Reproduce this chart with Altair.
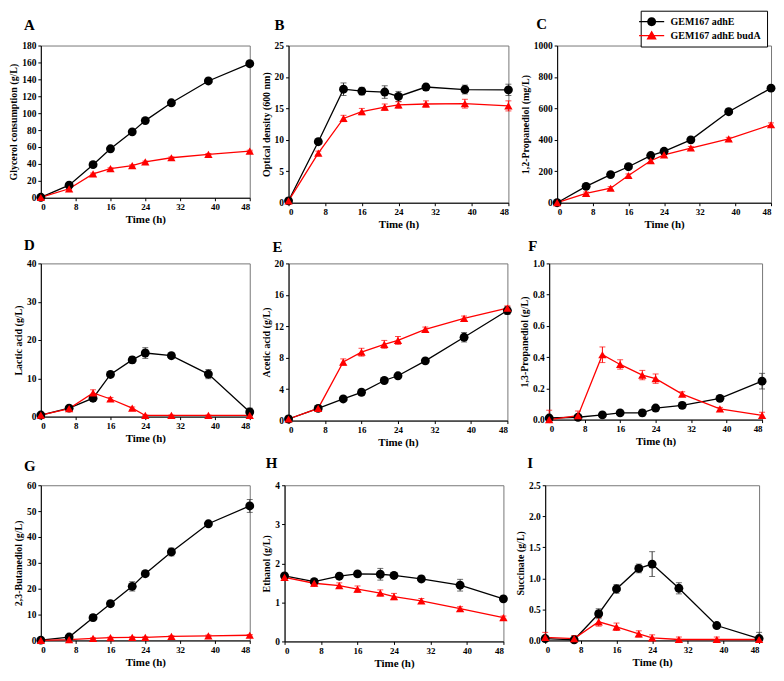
import altair as alt
import pandas as pd

TIME = [0, 6.5, 12, 16, 21, 24, 30, 38.5, 48]
X_TICKS = [0, 8, 16, 24, 32, 40, 48]
SERIES = ["GEM167 adhE", "GEM167 adhE budA"]
COLORS = ["black", "#ff0000"]
ERR_COLORS = ["#333333", "#ff0000"]

LETTERS = ["A", "B", "C", "D", "E", "F", "G", "H", "I"]
Y_TITLES = [
    "Glycerol consumption (g/L)", "Optical density (600 nm)", "1,2-Propanediol (mg/L)",
    "Lactic acid (g/L)", "Acetic acid (g/L)", "1,3-Propanediol (g/L)",
    "2,3-Butanediol (g/L)", "Ethanol (g/L)", "Succinate (g/L)",
]
Y_MAX = [180, 25, 1000, 40, 20, 1.0, 60, 4, 2.5]
Y_STEP = [20, 5, 200, 10, 4, 0.2, 10, 1, 0.5]
Y_FORMAT = ["d", "d", "d", "d", "d", ".1f", "d", "d", ".1f"]

# A: glycerol consumption
A_adhE = [0.5, 14.9, 39.1, 57.9, 77.9, 91.2, 112.3, 138.1, 158.5]
A_adhE_err = [0.5, 1.0, 1.0, 1.0, 1.5, 1.5, 1.5, 1.5, 2.0]
A_budA = [0.3, 10.6, 28.2, 34.4, 38.0, 42.3, 47.3, 51.3, 55.2]
A_budA_err = [0.3, 1.0, 1.0, 1.0, 1.0, 1.0, 1.0, 1.0, 1.0]
# B: optical density
B_adhE = [0.3, 9.7, 18.05, 17.75, 17.6, 16.9, 18.4, 18.0, 17.95]
B_adhE_err = [0.2, 0.4, 1.0, 0.6, 1.0, 0.8, 0.5, 0.7, 0.9]
B_budA = [0.3, 7.9, 13.4, 14.5, 15.2, 15.55, 15.7, 15.75, 15.4]
B_budA_err = [0.2, 0.3, 0.5, 0.5, 0.5, 0.5, 0.5, 0.7, 0.8]
# C: 1,2-propanediol
C_adhE = [0, 104, 179, 229, 300, 327, 400, 579, 729]
C_adhE_err = [5, 10, 12, 12, 12, 12, 12, 12, 15]
C_budA = [0, 60, 92, 173, 267, 304, 348, 406, 496]
C_budA_err = [5, 8, 10, 10, 12, 10, 10, 10, 12]
# D: lactic acid
D_adhE = [0.4, 2.2, 4.8, 11.0, 14.8, 16.6, 15.9, 11.1, 1.2]
D_adhE_err = [0.2, 0.3, 0.8, 0.6, 0.9, 1.4, 0.6, 1.2, 1.0]
D_budA = [0.4, 2.1, 6.2, 4.6, 2.2, 0.3, 0.3, 0.3, 0.3]
D_budA_err = [0.2, 0.3, 0.8, 0.4, 0.3, 0.1, 0.1, 0.1, 0.1]
# E: acetic acid
E_adhE = [0.2, 1.55, 2.75, 3.6, 5.1, 5.7, 7.6, 10.6, 14.0]
E_adhE_err = [0.1, 0.2, 0.2, 0.4, 0.2, 0.2, 0.3, 0.6, 0.5]
E_budA = [0.2, 1.55, 7.45, 8.7, 9.7, 10.2, 11.6, 13.0, 14.3]
E_budA_err = [0.1, 0.2, 0.4, 0.5, 0.5, 0.5, 0.3, 0.3, 0.3]
# F: 1,3-propanediol
F_adhE = [0.01, 0.015, 0.03, 0.043, 0.043, 0.074, 0.091, 0.136, 0.246]
F_adhE_err = [0.01, 0.01, 0.01, 0.01, 0.02, 0.01, 0.02, 0.01, 0.05]
F_budA = [0.0, 0.025, 0.415, 0.353, 0.285, 0.262, 0.163, 0.068, 0.027]
F_budA_err = [0.06, 0.03, 0.05, 0.03, 0.03, 0.03, 0.015, 0.01, 0.02]
# G: 2,3-butanediol
G_adhE = [0.1, 1.3, 8.8, 14.2, 20.9, 25.8, 34.2, 45.1, 52.0]
G_adhE_err = [0.2, 0.5, 1.2, 1.0, 1.8, 1.0, 1.5, 0.8, 2.5]
G_budA = [0.0, 0.3, 0.8, 1.1, 1.2, 1.2, 1.6, 1.8, 2.0]
G_budA_err = [0.05, 0.1, 0.2, 0.2, 0.2, 0.2, 0.2, 0.3, 0.3]
# H: ethanol
H_adhE = [1.68, 1.53, 1.67, 1.73, 1.72, 1.69, 1.60, 1.44, 1.09]
H_adhE_err = [0.05, 0.05, 0.05, 0.05, 0.15, 0.07, 0.07, 0.15, 0.07]
H_budA = [1.64, 1.49, 1.43, 1.34, 1.24, 1.15, 1.04, 0.84, 0.61]
H_budA_err = [0.08, 0.08, 0.07, 0.08, 0.08, 0.08, 0.06, 0.05, 0.04]
# I: succinate
I_adhE = [0.03, 0.01, 0.43, 0.83, 1.16, 1.23, 0.84, 0.24, 0.03]
I_adhE_err = [0.03, 0.02, 0.08, 0.07, 0.07, 0.2, 0.09, 0.04, 0.1]
I_budA = [0.05, 0.03, 0.30, 0.22, 0.105, 0.04, 0.015, 0.015, 0.015]
I_budA_err = [0.08, 0.05, 0.07, 0.06, 0.05, 0.05, 0.04, 0.04, 0.03]

PANEL_DATA = [
    (A_adhE, A_adhE_err, A_budA, A_budA_err),
    (B_adhE, B_adhE_err, B_budA, B_budA_err),
    (C_adhE, C_adhE_err, C_budA, C_budA_err),
    (D_adhE, D_adhE_err, D_budA, D_budA_err),
    (E_adhE, E_adhE_err, E_budA, E_budA_err),
    (F_adhE, F_adhE_err, F_budA, F_budA_err),
    (G_adhE, G_adhE_err, G_budA, G_budA_err),
    (H_adhE, H_adhE_err, H_budA, H_budA_err),
    (I_adhE, I_adhE_err, I_budA, I_budA_err),
]

# layout (plot-area sizes and letter placement)
WIDTHS = [210, 221, 215, 210, 220, 214, 210, 220, 215]
HEIGHTS = [153, 158, 158, 154, 158, 157, 156, 157, 156]
LETTER_DX = [-17, -14, -21, -17, -16, -21, -17, -19, -18]
LETTER_BASE = [-16, -16, -17, -13, -11, -12, -14, -17, -17]

FONT = "Liberation Serif"

CIRCLE_LEG = "M-2.8,-0.15L2.8,-0.15L2.8,0.15L-2.8,0.15Z M1,0A1,1,0,1,1,-1,0A1,1,0,1,1,1,0Z"
TRI_LEG = "M-2.8,-0.15L2.8,-0.15L2.8,0.15L-2.8,0.15Z M0,-1.15L1.15,0.85L-1.15,0.85Z"


def make_df(a, ae, b, be):
    rows = []
    for s, vals, errs in ((SERIES[0], a, ae), (SERIES[1], b, be)):
        for t, v, e in zip(TIME, vals, errs):
            rows.append({"time": t, "value": v, "lo": max(0.0, v - e), "hi": v + e, "series": s})
    return pd.DataFrame(rows)


def panel(i, with_legend=False):
    df = make_df(*PANEL_DATA[i])
    n = int(round(Y_MAX[i] / Y_STEP[i]))
    yticks = [round(k * Y_STEP[i], 4) for k in range(n + 1)]
    xenc = alt.X("time:Q", title="Time (h)",
                 scale=alt.Scale(domain=[0, 48], nice=False, zero=False),
                 axis=alt.Axis(values=X_TICKS))

    def yenc(field):
        return alt.Y(f"{field}:Q", title=Y_TITLES[i],
                     scale=alt.Scale(domain=[0, Y_MAX[i]], nice=False),
                     axis=alt.Axis(values=yticks, format=Y_FORMAT[i]))

    is1 = alt.datum.series == SERIES[0]
    col = alt.condition(is1, alt.value(COLORS[0]), alt.value(COLORS[1]))
    ecol = alt.condition(is1, alt.value(ERR_COLORS[0]), alt.value(ERR_COLORS[1]))
    base = alt.Chart(df)
    line = base.mark_line(strokeWidth=1.3).encode(x=xenc, y=yenc("value"), detail="series:N", color=col)
    rule = base.mark_rule(strokeWidth=1).encode(x=xenc, y=yenc("lo"), y2="hi:Q", color=ecol)
    cap_lo = base.mark_tick(orient="horizontal", size=6, thickness=1).encode(x=xenc, y=yenc("lo"), color=ecol)
    cap_hi = base.mark_tick(orient="horizontal", size=6, thickness=1).encode(x=xenc, y=yenc("hi"), color=ecol)
    pts = base.mark_point(filled=True, opacity=1, strokeWidth=0).encode(
        x=xenc, y=yenc("value"), color=col,
        shape=alt.condition(is1, alt.value("circle"), alt.value("triangle-up")),
        size=alt.condition(is1, alt.value(80), alt.value(70)),
    )
    letter = alt.Chart(pd.DataFrame({"letter": [LETTERS[i]]})).mark_text(
        font=FONT, fontWeight="bold", fontSize=15, color="black", align="left", baseline="alphabetic",
    ).encode(text="letter:N", x=alt.value(LETTER_DX[i]), y=alt.value(LETTER_BASE[i]))
    layers = [line, rule, cap_lo, cap_hi, pts, letter]
    if with_legend:
        leg = alt.Legend(
            title=None, orient="none", legendX=603, legendY=-35, offset=0,
            labelFont=FONT, labelFontWeight="bold", labelFontSize=10, labelColor="black",
            strokeColor="black", padding=6, symbolSize=81, labelOffset=14,
            rowPadding=3, symbolStrokeWidth=0, fillColor="white",
        )
        legend_layer = base.transform_filter("false").mark_point(filled=True, opacity=1).encode(
            x=xenc, y=yenc("value"),
            color=alt.Color("series:N", scale=alt.Scale(domain=SERIES, range=COLORS), legend=leg),
            shape=alt.Shape("series:N", scale=alt.Scale(domain=SERIES, range=[CIRCLE_LEG, TRI_LEG]), legend=leg),
        )
        layers.append(legend_layer)
    return alt.layer(*layers).properties(width=WIDTHS[i], height=HEIGHTS[i])


rows = []
for r in range(3):
    rows.append(alt.hconcat(*[panel(3 * r + c, with_legend=(3 * r + c == 2)) for c in range(3)], spacing=6))

chart = alt.vconcat(*rows, spacing=7).resolve_scale(color="shared", shape="shared").properties(
    padding=0
).configure_view(stroke="#777777", strokeWidth=1).configure_axis(
    labelFont=FONT, labelFontWeight="bold", labelFontSize=9.5, labelColor="black",
    titleFont=FONT, titleFontWeight="bold", titleFontSize=10, titleColor="black",
    domainColor="black", tickColor="black", tickSize=3, grid=False,
    labelPadding=2, titlePadding=3,
).configure_axisX(titlePadding=2, titleFontSize=11, labelFontSize=9)

chart.save("out.html", embed_options={"renderer": "svg", "actions": False})
